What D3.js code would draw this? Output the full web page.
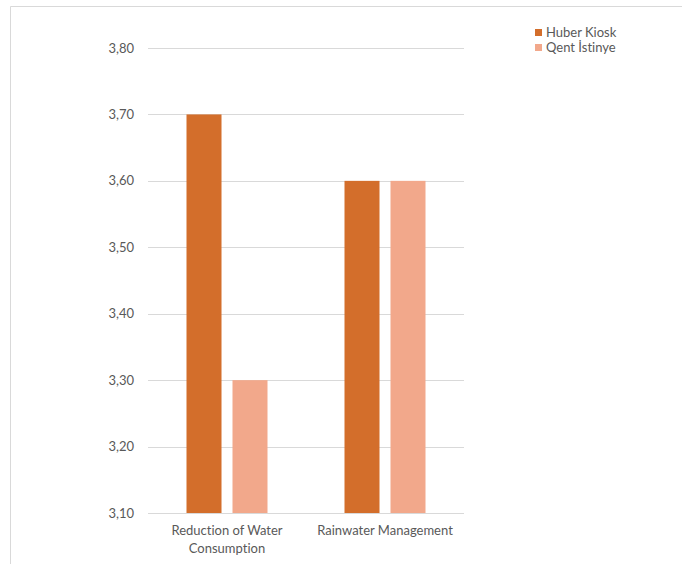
<!DOCTYPE html>
<html><head><meta charset="utf-8">
<script src="https://cdn.jsdelivr.net/npm/d3@7"></script>
<style>body{margin:0;background:#fff;}svg{display:block;}text{font-family:Lato,"Open Sans",sans-serif;fill:#595959;font-variant-ligatures:none;font-feature-settings:"liga" 0;}</style>
</head><body>
<svg id="c" width="682" height="564"></svg>
<script>
const categories = [["Reduction of Water","Consumption"],["Rainwater Management"]];
const seriesNames = ["Huber Kiosk","Qent İstinye"];
const huber = [3.70, 3.60];
const qent = [3.30, 3.60];
const yTicks = [3.10,3.20,3.30,3.40,3.50,3.60,3.70,3.80];
const colors = ["#d36e2b","#f2a88b"];

const svg = d3.select("#c");
svg.append("path").attr("d","M10.5,564V6.5H682").attr("fill","none").attr("stroke","#d9d9d9").attr("stroke-width",1);

const pL=148, pR=464, pT=48, pB=513;
const y = d3.scaleLinear().domain([3.10,3.80]).range([pB,pT]);
const x0 = d3.scaleBand().domain(d3.range(categories.length)).range([pL,pR]);
const x1 = d3.scaleBand().domain([0,1]).range([0,x0.bandwidth()]).paddingInner(0.239).paddingOuter(0.837);

svg.append("g").selectAll("line").data(yTicks).join("line")
  .attr("x1",pL).attr("x2",pR).attr("y1",d=>Math.round(y(d))+0.5).attr("y2",d=>Math.round(y(d))+0.5)
  .attr("stroke","#d9d9d9").attr("stroke-width",1);

svg.append("g").selectAll("text").data(yTicks).join("text")
  .attr("x",134).attr("y",d=>y(d)+4.5).attr("text-anchor","end").attr("font-size","13px")
  .text(d=>d.toFixed(2).replace(".",","));

const data = categories.map((c,i)=>[huber[i],qent[i]]);
const g = svg.append("g").selectAll("g").data(data).join("g").attr("transform",(d,i)=>`translate(${x0(i)},0)`);
g.selectAll("rect").data(d=>d).join("rect")
  .attr("x",(d,j)=>x1(j)).attr("width",x1.bandwidth())
  .attr("y",d=>y(d)).attr("height",d=>pB-y(d))
  .attr("fill",(d,j)=>colors[j]);

const lab = svg.append("g").selectAll("text").data(categories).join("text")
  .attr("x",(d,i)=>x0(i)+x0.bandwidth()/2).attr("y",535).attr("text-anchor","middle").attr("font-size","13px");
lab.selectAll("tspan").data(d=>d).join("tspan")
  .attr("x",function(){return this.parentNode.getAttribute("x");})
  .attr("dy",(d,i)=>i===0?0:18).text(d=>d);

const lg = svg.append("g").selectAll("g").data(seriesNames).join("g")
  .attr("transform",(d,i)=>`translate(535,${29+i*15})`);
lg.append("rect").attr("width",7).attr("height",7).attr("fill",(d,i)=>colors[i]);
lg.append("text").attr("x",11).attr("y",7.5).attr("font-size","13px").text(d=>d);
</script>
</body></html>
